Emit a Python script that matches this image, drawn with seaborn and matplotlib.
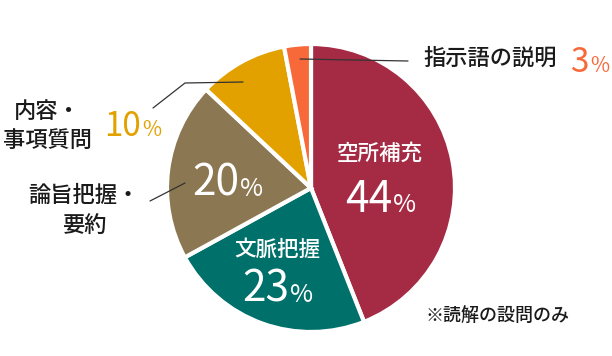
import seaborn as sns
import matplotlib.pyplot as plt

# reading-question breakdown (読解の設問のみ)
categories = ['空所補充', '文脈把握', '論旨把握・要約', '内容・事項質問', '指示語の説明']
values = [44, 23, 20, 10, 3]
colors = ['#A52B45', '#00706A', '#8B7752', '#E3A100', '#F8693A']

sns.set_theme(style='white')
plt.rcParams['font.family'] = ['Noto Sans CJK JP', 'DejaVu Sans']
plt.rcParams['font.weight'] = 'medium'

W, H = 612, 356
fig = plt.figure(figsize=(W / 100, H / 100), dpi=100)
ax = fig.add_axes([0, 0, 1, 1])


def py(y):
    # pixel row (top origin) -> data y
    return H - y


ax.pie(values, colors=colors, startangle=90, counterclock=False,
       center=(311, py(188)), radius=144,
       wedgeprops=dict(edgecolor='white', linewidth=3))
ax.set_xlim(0, W)
ax.set_ylim(0, H)
ax.set_aspect('equal')
ax.axis('off')

txt = '#1a1a1a'


def pct(x, y, val, color, big, small):
    ax.text(x, py(y), str(val), color=color, fontsize=big, fontweight='normal',
            ha='right', va='baseline')
    ax.text(x + 1, py(y), '%', color=color, fontsize=small, fontweight='normal',
            ha='left', va='baseline')


# inside labels
ax.text(380, py(154), categories[0], color='white', fontsize=15.5, ha='center', va='center')
pct(392, 212, values[0], 'white', 30.5, 18)
ax.text(277, py(250), categories[1], color='white', fontsize=15.5, ha='center', va='center')
pct(289, 302, values[1], 'white', 30.5, 18)
pct(239, 196, values[2], 'white', 30.5, 18)

# outside labels
ax.text(84, py(195), '論旨把握・', color=txt, fontsize=16, ha='center', va='center')
ax.text(84, py(225), '要約', color=txt, fontsize=16, ha='center', va='center')
ax.plot([150, 185], [py(201), py(183)], color='#333333', lw=0.9)

ax.text(47, py(112), '内容・', color=txt, fontsize=16, ha='center', va='center')
ax.text(47, py(140), '事項質問', color=txt, fontsize=16, ha='center', va='center')
pct(141, 136, values[3], colors[3], 24, 15)
ax.plot([153, 185, 243], [py(108), py(83), py(82)], color='#333333', lw=0.9)

ax.text(490, py(58), categories[4], color=txt, fontsize=16, ha='center', va='center')
pct(589, 72, values[4], colors[4], 24, 15)
ax.plot([300, 408], [py(59), py(61)], color='#333333', lw=0.9)

ax.text(498, py(317), '※読解の設問のみ', color=txt, fontsize=13, ha='center', va='center')

fig.savefig('out.png', dpi=100, facecolor='white')
